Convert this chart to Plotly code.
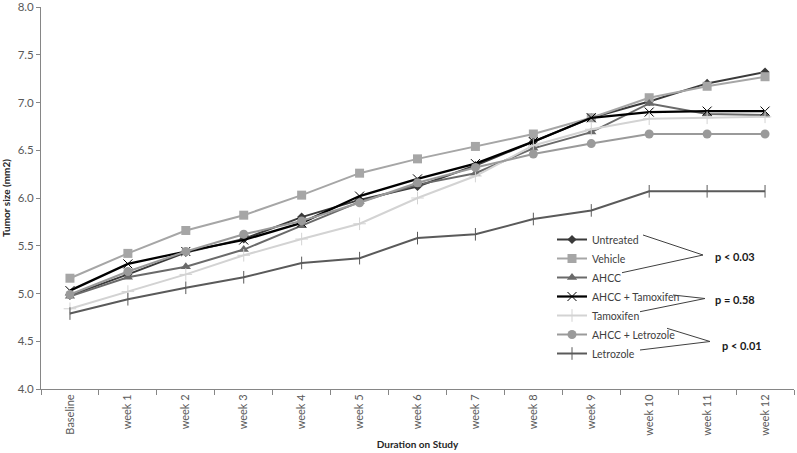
import plotly.graph_objects as go

weeks = ["Baseline", "week 1", "week 2", "week 3", "week 4", "week 5", "week 6",
         "week 7", "week 8", "week 9", "week 10", "week 11", "week 12"]
untreated = [4.98, 5.20, 5.43, 5.57, 5.80, 5.98, 6.12, 6.34, 6.59, 6.84, 7.01, 7.20, 7.32]
vehicle = [5.16, 5.42, 5.66, 5.82, 6.03, 6.26, 6.41, 6.54, 6.67, 6.84, 7.05, 7.17, 7.27]
ahcc = [4.97, 5.17, 5.28, 5.46, 5.71, 5.96, 6.14, 6.26, 6.52, 6.69, 6.99, 6.88, 6.87]
ahcc_tam = [5.03, 5.31, 5.44, 5.56, 5.74, 6.02, 6.20, 6.36, 6.59, 6.84, 6.90, 6.91, 6.91]
tamoxifen = [4.84, 5.02, 5.20, 5.40, 5.57, 5.73, 6.00, 6.23, 6.55, 6.72, 6.83, 6.84, 6.85]
ahcc_let = [4.99, 5.23, 5.44, 5.62, 5.76, 5.95, 6.16, 6.32, 6.46, 6.57, 6.67, 6.67, 6.67]
letrozole = [4.79, 4.94, 5.06, 5.17, 5.32, 5.37, 5.58, 5.62, 5.78, 5.87, 6.07, 6.07, 6.07]

series = [
    ("Untreated", untreated, "#3a3a3a", 2.0, dict(symbol="diamond", size=7)),
    ("Vehicle", vehicle, "#a6a6a6", 2.0, dict(symbol="square", size=9)),
    ("AHCC", ahcc, "#6a6a6a", 2.0, dict(symbol="triangle-up", size=9)),
    ("AHCC + Tamoxifen", ahcc_tam, "#000000", 2.25,
     dict(symbol="x-thin", size=9, line=dict(width=1.0, color="#000000"))),
    ("Tamoxifen", tamoxifen, "#d3d3d3", 2.0,
     dict(symbol="cross-thin", size=9, line=dict(width=1.0, color="#d3d3d3"))),
    ("AHCC + Letrozole", ahcc_let, "#9a9a9a", 2.0, dict(symbol="circle", size=9)),
    ("Letrozole", letrozole, "#5a5a5a", 2.0,
     dict(symbol="line-ns", size=9, line=dict(width=1.0, color="#5a5a5a"))),
]

W, H = 797, 453
L, R, T, B = 41, 3, 7, 64

fig = go.Figure()
for name, vals, color, lw, mk in series:
    mk = dict(mk)
    mk.setdefault("color", color)
    fig.add_trace(go.Scatter(x=weeks, y=vals, name=name, mode="lines+markers",
                             line=dict(color=color, width=lw), marker=mk))

def px(x, y):
    return (x - L) / (W - L - R), 1 - (y - T) / (H - T - B)

brackets = [
    [(643, 235), (703, 255), (622, 272.7)],
    [(673, 295), (705, 298.5), (640, 311.7)],
    [(667, 328.3), (710, 341.5), (640, 350)],
]
shapes = []
for a, tip, b in brackets:
    for p in (a, b):
        x0, y0 = px(*p)
        x1, y1 = px(*tip)
        shapes.append(dict(type="line", xref="paper", yref="paper", x0=x0, y0=y0,
                           x1=x1, y1=y1, line=dict(color="#404040", width=1)))

pvals = [("p < 0.03", 713, 256), ("p = 0.58", 713, 299), ("p < 0.01", 720, 345)]
annotations = []
for txt, x, y in pvals:
    ax, ay = px(x, y)
    annotations.append(dict(text="<b>%s</b>" % txt, xref="paper", yref="paper", x=ax, y=ay,
                            xanchor="left", yanchor="middle", showarrow=False,
                            font=dict(size=11, color="#1a1a1a")))

fig.update_layout(
    width=W, height=H,
    margin=dict(l=L, r=R, t=T, b=B),
    plot_bgcolor="white", paper_bgcolor="white",
    font=dict(family="Lato, Open Sans, sans-serif", color="#595959", size=11),
    showlegend=True,
    legend=dict(x=px(552, 0)[0], y=px(0, 225)[1], xanchor="left", yanchor="top",
                bgcolor="rgba(0,0,0,0)", font=dict(size=10.5, color="#404040"),
                itemwidth=30, tracegroupgap=0),
    shapes=shapes, annotations=annotations,
    xaxis=dict(type="category", range=[-0.5, 12.5], tickson="boundaries", ticks="outside",
               ticklen=5, tickcolor="#868686", showline=True, linecolor="#868686",
               linewidth=1, showgrid=False, tickangle=-90, tickfont=dict(size=11),
               automargin=False,
               title=dict(text="<b>Duration on Study</b>", font=dict(size=10, color="#262626"),
                          standoff=6)),
    yaxis=dict(range=[4.0, 8.0], dtick=0.5, tickformat=".1f", ticks="outside", ticklen=4,
               tickcolor="#868686", showline=True, linecolor="#868686", linewidth=1,
               showgrid=False, zeroline=False, tickfont=dict(size=11.5),
               automargin=False, ticklabeloverflow="allow",
               title=dict(text="<b>Tumor size (mm2)</b>", font=dict(size=10, color="#262626"),
                          standoff=8)),
)

fig.write_html("out.html", config={"displayModeBar": False},
               post_script="document.body.style.margin='0';")
